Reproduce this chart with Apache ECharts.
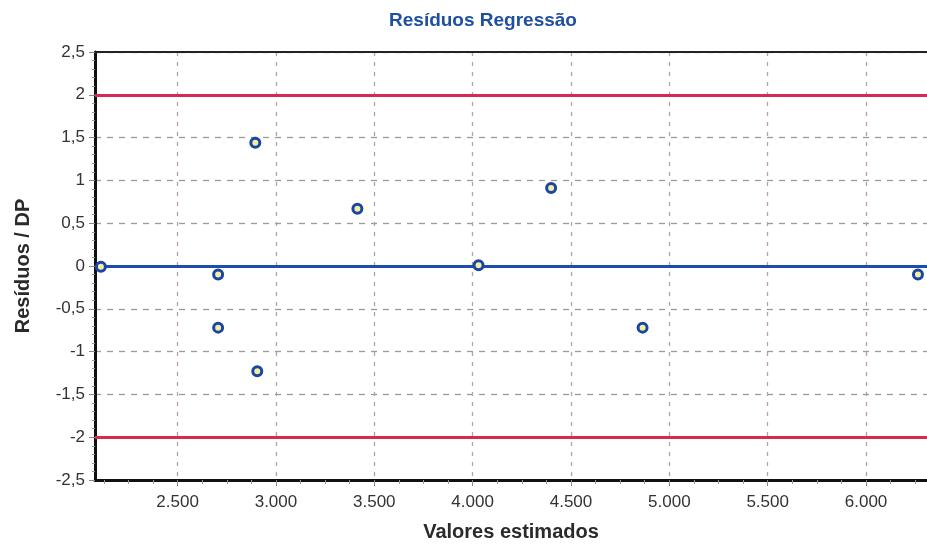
<!DOCTYPE html>
<html>
<head>
<meta charset="utf-8">
<script src="https://cdn.jsdelivr.net/npm/echarts@6/dist/echarts.min.js"></script>
<style>
html,body{margin:0;padding:0;background:#fff;}
#chart{width:927px;height:547px;}
</style>
</head>
<body>
<div id="chart"></div>
<script>
// ---- data ----
var chartTitle = 'Resíduos Regressão';
var xName = 'Valores estimados';
var yName = 'Resíduos / DP';
var estimated = [2110, 2706, 2706, 2895, 2905, 3414, 4030, 4399, 4864, 6264];
var residuals = [-0.01, -0.10, -0.72, 1.44, -1.23, 0.67, 0.01, 0.91, -0.72, -0.10];
var limitLines = [2, -2];
var zeroLine = [0];
var xTicks = [2500, 3000, 3500, 4000, 4500, 5000, 5500, 6000];
var xRange = [2080, 6310];
var yRange = [-2.5, 2.5];
var yStep = 0.5;

// minor x ticks (quarters between majors)
var xMinor = [];
for (var v = xTicks[0] - 375; v < xRange[1]; v += 125) {
  if (v > xRange[0] && xTicks.indexOf(v) < 0) xMinor.push(v);
}

var font = "'Liberation Sans', Arial, sans-serif";
var scatterData = estimated.map(function (x, i) { return [x, residuals[i]]; });

var chart = echarts.init(document.getElementById('chart'));
chart.setOption({
  animation: false,
  backgroundColor: '#ffffff',
  title: {
    text: chartTitle,
    left: 478, textAlign: 'center', top: 6,
    textStyle: { color: '#1f4fa0', fontSize: 19, fontWeight: 'bold', fontFamily: font }
  },
  grid: { left: 95, right: 0, top: 52, bottom: 64 },
  xAxis: [{
    type: 'value', position: 'bottom',
    min: xRange[0], max: xRange[1],
    name: xName, nameLocation: 'middle', nameGap: 42,
    nameTextStyle: { color: '#2a2a2a', fontSize: 20, fontWeight: 'bold', fontFamily: font },
    axisLine: { show: true, onZero: false, lineStyle: { color: '#111', width: 3 } },
    axisTick: { show: true, customValues: xTicks, length: 6, lineStyle: { color: '#888', width: 1 } },
    axisLabel: {
      customValues: xTicks, margin: 14, color: '#333', fontSize: 17, fontFamily: font,
      formatter: function (v) { return String(v).replace(/\B(?=(\d{3})+(?!\d))/g, '.'); }
    },
    splitLine: { show: true, lineStyle: { color: '#b8a39c', type: [4, 6], width: 1.3 } }
  }, {
    type: 'value', position: 'bottom',
    min: xRange[0], max: xRange[1],
    axisLine: { show: false, onZero: false },
    axisTick: { show: true, customValues: xMinor, length: 4, lineStyle: { color: '#999', width: 1 } },
    axisLabel: { show: false },
    splitLine: { show: false }
  }, {
    type: 'value', position: 'top',
    min: xRange[0], max: xRange[1],
    axisLine: { show: true, onZero: false, lineStyle: { color: '#222', width: 2 } },
    axisTick: { show: false }, axisLabel: { show: false }, splitLine: { show: false }
  }],
  yAxis: {
    type: 'value',
    min: yRange[0], max: yRange[1], interval: yStep,
    name: yName, nameLocation: 'middle', nameGap: 62, nameRotate: 90,
    nameTextStyle: { color: '#2a2a2a', fontSize: 20, fontWeight: 'bold', fontFamily: font },
    axisLine: { show: true, onZero: false, lineStyle: { color: '#111', width: 3 } },
    axisTick: { show: true, length: 6, lineStyle: { color: '#888', width: 1 } },
    minorTick: { show: true, splitNumber: 5, length: 3, lineStyle: { color: '#999', width: 1 } },
    axisLabel: {
      margin: 10, color: '#333', fontSize: 17, fontFamily: font,
      formatter: function (v) { return String(v).replace('.', ','); }
    },
    splitLine: { show: true, lineStyle: { color: '#9a9a9a', type: [6, 6], width: 1.3 } }
  },
  series: [{
    type: 'scatter',
    xAxisIndex: 0,
    data: scatterData,
    symbol: 'circle', symbolSize: 9,
    itemStyle: { color: '#f4eea0', borderColor: '#1a45a5', borderWidth: 3, opacity: 1 },
    z: 5,
    markLine: {
      silent: true, symbol: 'none', label: { show: false },
      data: limitLines.map(function (y) { return { yAxis: y, lineStyle: { color: '#d62a52', width: 3, type: 'solid' } }; })
        .concat(zeroLine.map(function (y) { return { yAxis: y, lineStyle: { color: '#1a4ea8', width: 3, type: 'solid' } }; }))
    }
  }]
});
</script>
</body>
</html>
